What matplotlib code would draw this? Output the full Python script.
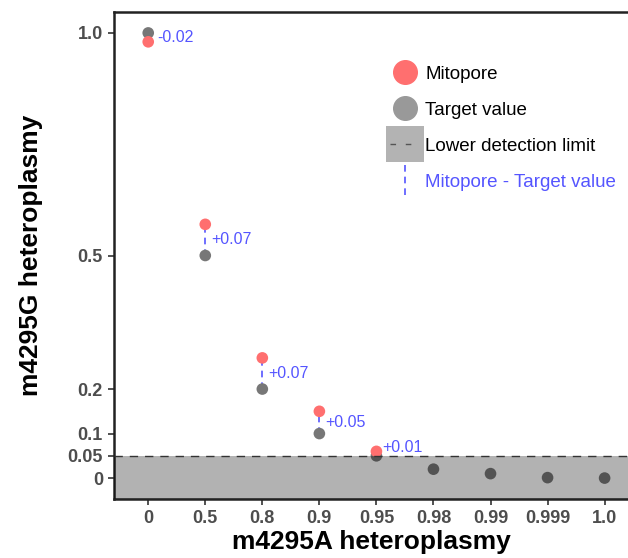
import matplotlib.pyplot as plt
from matplotlib.lines import Line2D
from matplotlib.patches import Rectangle
from matplotlib.legend_handler import HandlerBase

plt.rcParams['font.family'] = ['Liberation Sans', 'DejaVu Sans']

# data
x_labels = ["0", "0.5", "0.8", "0.9", "0.95", "0.98", "0.99", "0.999", "1.0"]
target = [1.0, 0.5, 0.2, 0.1, 0.05, 0.02, 0.01, 0.001, 0.0]
mitopore = [0.98, 0.57, 0.27, 0.15, 0.06]
diff_labels = ["-0.02", "+0.07", "+0.07", "+0.05", "+0.01"]
detection_limit = 0.05
y_ticks = [0, 0.05, 0.1, 0.2, 0.5, 1.0]
y_ticklabels = ["0", "0.05", "0.1", "0.2", "0.5", "1.0"]

RED = "#ff6f6f"
GREY = "#777777"
BLUE = "#5555ff"

fig = plt.figure(figsize=(6.28, 5.58), dpi=100)
ax = fig.add_axes([114 / 628, 59 / 558, 514 / 628, 487 / 558])

xs = list(range(len(x_labels)))

# differences (blue dashed segments)
for i, (m, t) in enumerate(zip(mitopore, target)):
    ax.plot([i, i], [t, m], color=BLUE, lw=1.2, ls=(0, (4, 3)), zorder=2)

ax.scatter(xs, target, s=70, color=GREY, edgecolor="none", zorder=3)
ax.scatter(xs[:len(mitopore)], mitopore, s=70, color=RED, edgecolor="none", zorder=4)

# difference labels
for i, (m, t, lab) in enumerate(zip(mitopore, target, diff_labels)):
    yy = m + 0.008 if i == 4 else (m + t) / 2
    dx = 0.16 if i == 0 else 0.1
    ax.text(i + dx, yy, lab, color=BLUE, fontsize=11.5, va="center", ha="left", zorder=5)

# lower detection limit shading
ax.axhspan(-0.1, detection_limit, color="black", alpha=0.3, lw=0, zorder=6)
ax.axhline(detection_limit, color="#333333", lw=1, ls=(0, (6, 5)), zorder=7)

ax.set_xlim(-0.6, 8.41)
ax.set_ylim(-0.047, 1.047)
ax.set_xticks(xs)
ax.set_xticklabels(x_labels)
ax.set_yticks(y_ticks)
ax.set_yticklabels(y_ticklabels)
ax.tick_params(axis="both", colors="#333333", length=4, width=1.2, labelsize=13,
               labelcolor="#4d4d4d", pad=4)
for lab in ax.get_xticklabels() + ax.get_yticklabels():
    lab.set_fontweight("bold")

for side in ["left", "bottom", "top"]:
    ax.spines[side].set_linewidth(1.8)
    ax.spines[side].set_color("#222222")
ax.spines["right"].set_visible(False)

ax.set_xlabel("m4295A heteroplasmy", fontsize=19, fontweight="bold", labelpad=2)
ax.set_ylabel("m4295G heteroplasmy", fontsize=19, fontweight="bold", labelpad=18)


class LimitHandler(HandlerBase):
    def create_artists(self, legend, orig, xd, yd, w, h, fontsize, trans):
        rect = Rectangle((xd - 3, yd - 8), w + 6, h + 16, facecolor="#b3b3b3",
                         edgecolor="none", transform=trans)
        line = Line2D([xd, xd + w], [yd + h / 2, yd + h / 2], color="#555555",
                      lw=1, ls=(0, (4, 7)), transform=trans)
        return [rect, line]


class DiffHandler(HandlerBase):
    def create_artists(self, legend, orig, xd, yd, w, h, fontsize, trans):
        line = Line2D([xd + w / 2, xd + w / 2], [yd - 6, yd + h + 6], color=BLUE,
                      lw=1.2, ls=(0, (4, 3)), transform=trans)
        return [line]


h_red = Line2D([], [], marker="o", ls="none", color=RED, markersize=17)
h_grey = Line2D([], [], marker="o", ls="none", color="#999999", markersize=17)
h_limit = Rectangle((0, 0), 1, 1)
h_diff = Line2D([], [])
leg = ax.legend([h_red, h_grey, h_limit, h_diff],
                ["Mitopore", "Target value", "Lower detection limit", "Mitopore - Target value"],
                handler_map={Rectangle: LimitHandler(), h_diff: DiffHandler()},
                loc="upper left", bbox_to_anchor=(0.522, 0.905), frameon=False,
                fontsize=13.5, handlelength=1.6, handletextpad=0.3, labelspacing=1.0,
                borderaxespad=0)
leg.get_texts()[3].set_color(BLUE)
leg.set_zorder(10)

fig.savefig("out.png", dpi=100)
